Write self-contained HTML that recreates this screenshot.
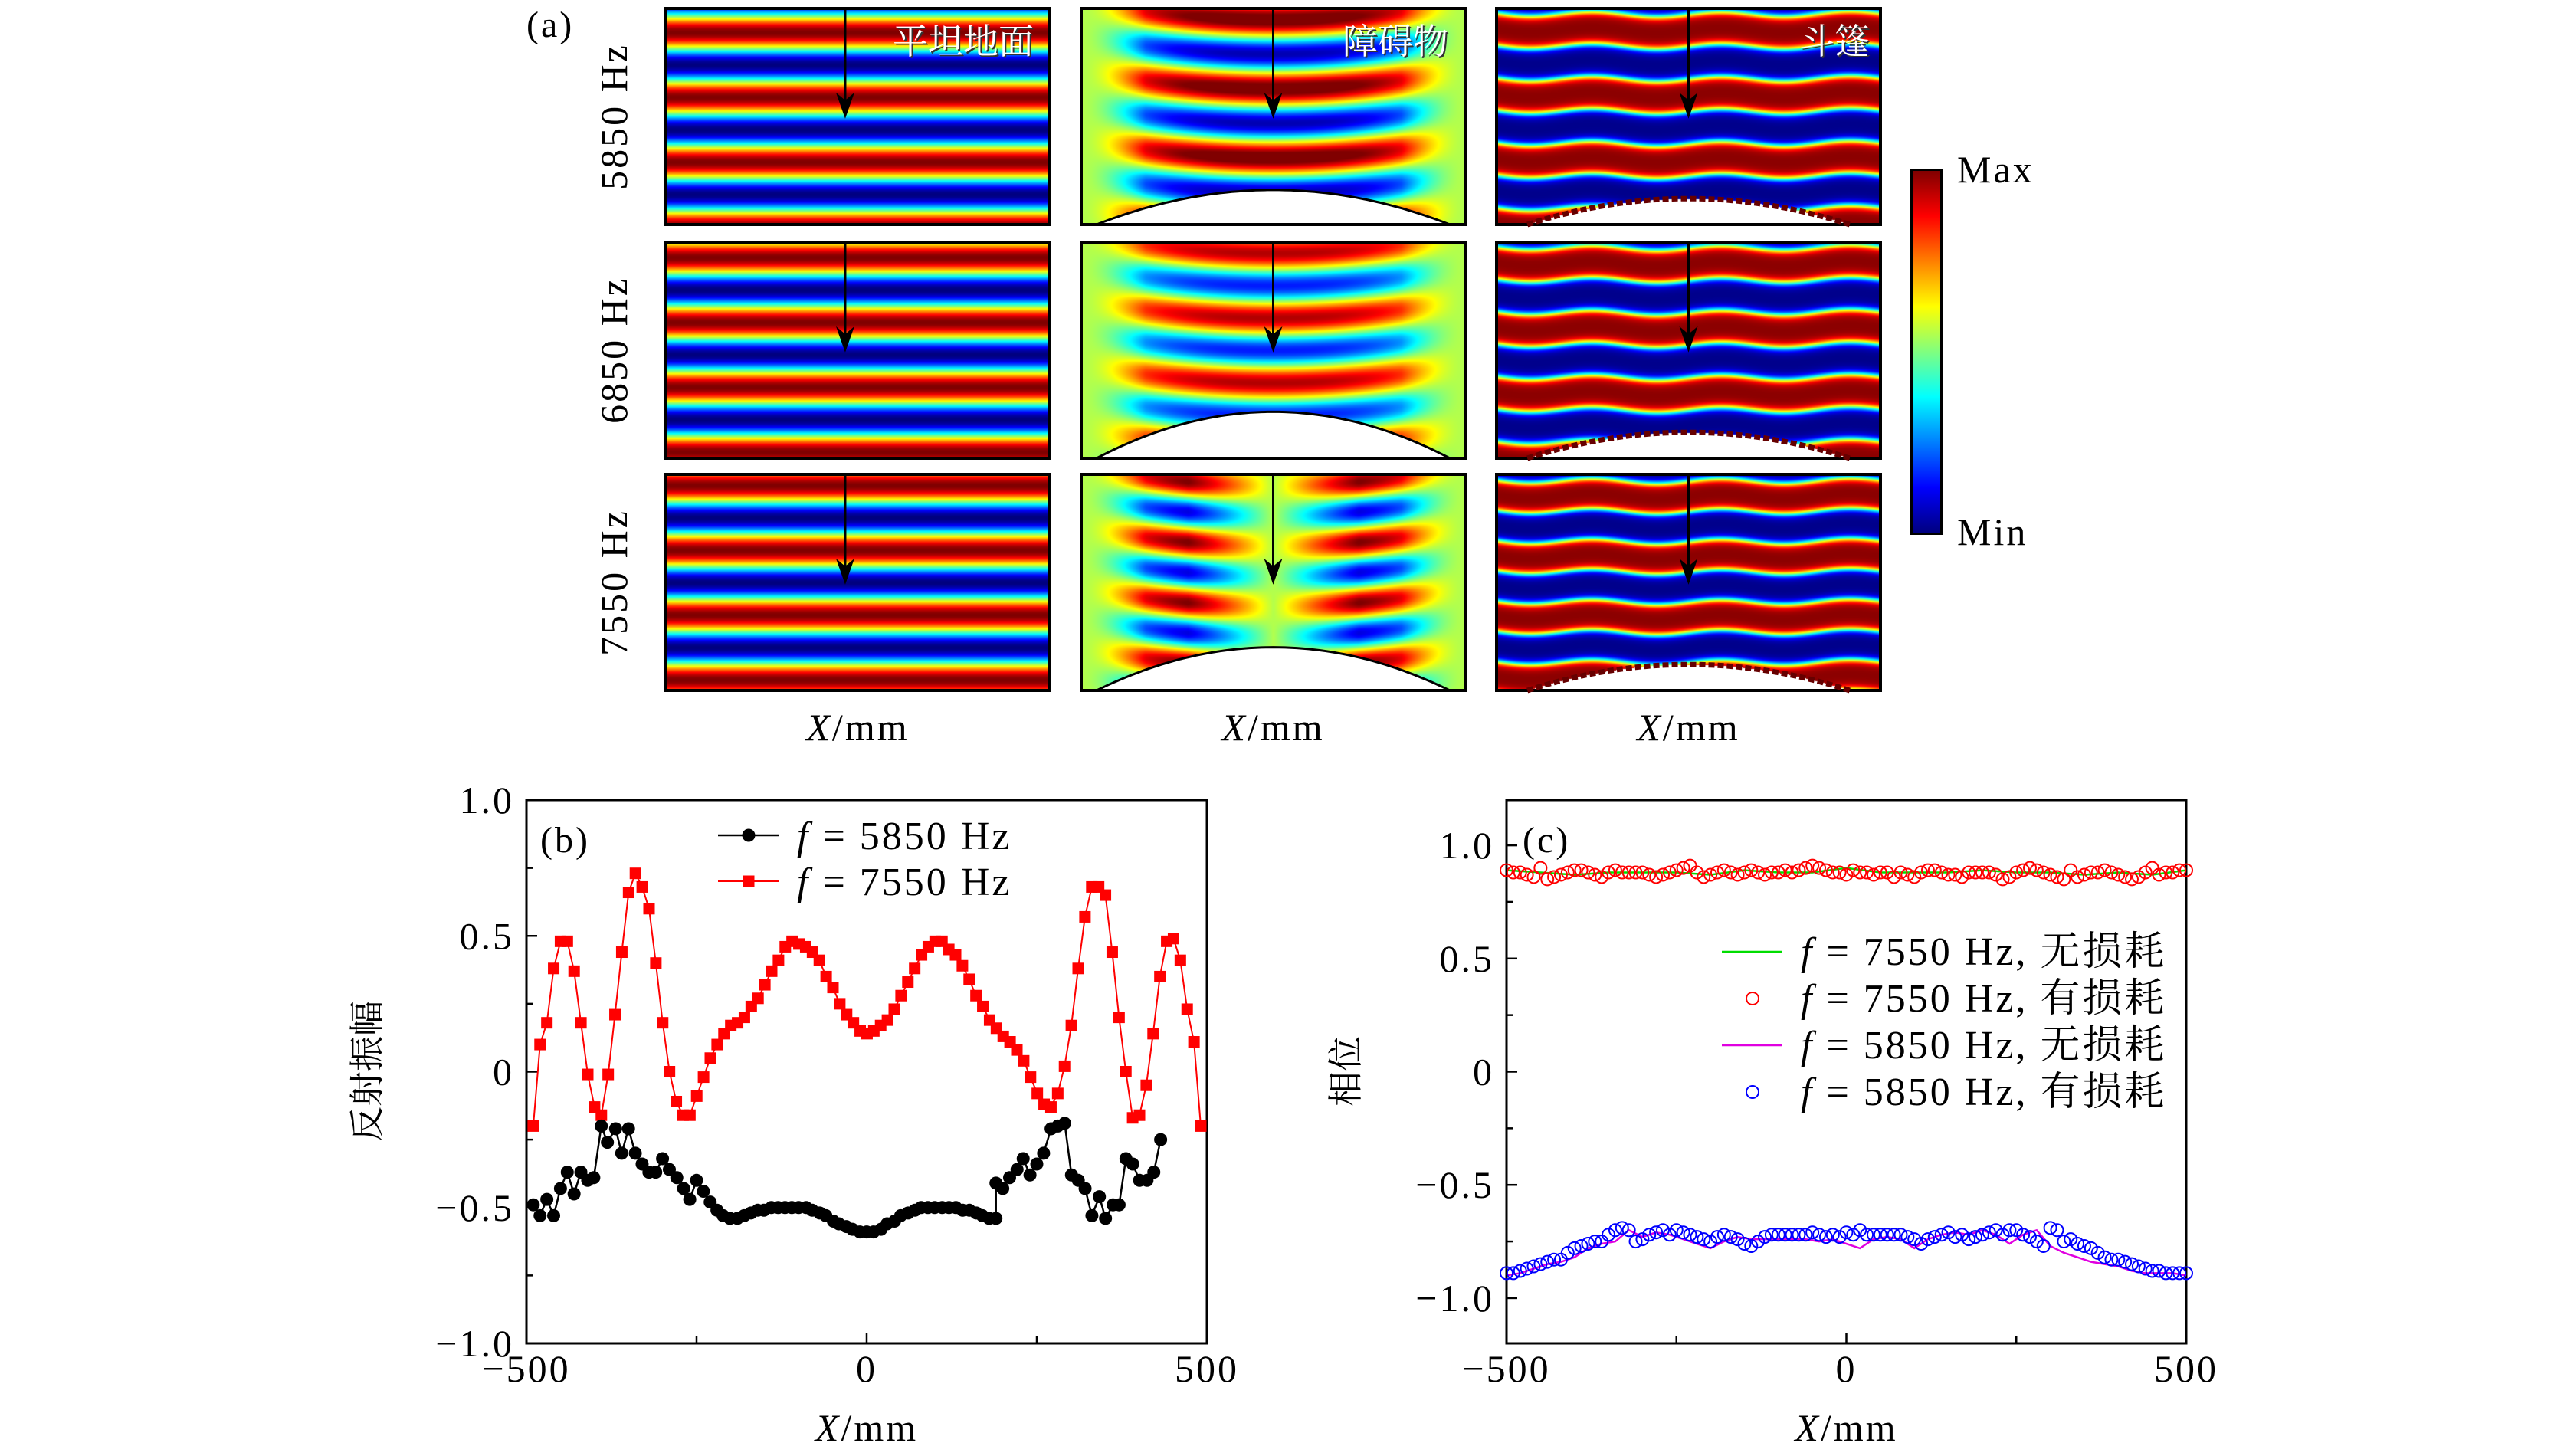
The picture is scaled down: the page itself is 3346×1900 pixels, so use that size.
<!DOCTYPE html>
<html><head><meta charset="utf-8">
<style>
html,body{margin:0;padding:0;background:#fff;}
#root{position:relative;width:3346px;height:1900px;overflow:hidden;background:#fff;}
canvas{position:absolute;}
svg{position:absolute;left:0;top:0;}
text{font-family:"Liberation Serif","Noto Serif CJK SC",serif;}
.w{letter-spacing:3px;}
</style></head>
<body>
<div id="root">
<div style="position:absolute;left:2493px;top:220px;width:36px;height:472px;border:3px solid #000;background:linear-gradient(to bottom,#800000 0%,#ff0000 12.5%,#ffff00 37.5%,#00ffff 62.5%,#0000ff 87.5%,#000080 100%);"></div>
<svg id="svg" width="3346" height="1900"></svg>
</div>
<script>
// ---------- chart (b) data ----------
const bRedY = [-0.20,0.10,0.18,0.38,0.48,0.48,0.37,0.18,-0.01,-0.13,-0.16,-0.01,0.21,0.44,0.66,0.73,0.68,0.60,0.40,0.18,0.00,-0.11,-0.16,-0.16,-0.09,-0.02,0.05,0.10,0.14,0.17,0.18,0.20,0.24,0.27,0.32,0.37,0.41,0.46,0.48,0.47,0.46,0.44,0.41,0.35,0.31,0.25,0.21,0.18,0.15,0.14,0.15,0.17,0.19,0.23,0.28,0.33,0.38,0.43,0.46,0.48,0.48,0.45,0.43,0.39,0.34,0.28,0.24,0.19,0.16,0.13,0.11,0.08,0.04,-0.02,-0.08,-0.12,-0.13,-0.08,0.02,0.17,0.38,0.57,0.68,0.68,0.65,0.44,0.20,0.00,-0.17,-0.16,-0.05,0.14,0.35,0.48,0.49,0.41,0.23,0.11,-0.20];
const bBlackX = [-490,-480,-470,-460,-450,-440,-430,-420,-410,-401,-390,-381,-369,-360,-350,-340,-330,-320,-310,-300,-290,-279,-269,-260,-250,-240,-230,-220,-211,-201,-190,-180,-170,-160,-151,-140,-130,-120,-110,-100,-89,-80,-69,-60,-49,-41,-30,-21,-10,0,10,21,30,41,50,61,71,80,90,100,111,121,131,141,151,161,170,180,190,190,200,210,221,230,240,250,260,271,281,291,301,311,321,331,342,351,362,371,381,391,401,412,422,432];
const bBlackY = [-0.49,-0.53,-0.47,-0.53,-0.43,-0.37,-0.45,-0.37,-0.40,-0.39,-0.20,-0.26,-0.21,-0.30,-0.21,-0.30,-0.34,-0.37,-0.37,-0.32,-0.36,-0.39,-0.43,-0.47,-0.40,-0.44,-0.48,-0.51,-0.53,-0.54,-0.54,-0.53,-0.52,-0.51,-0.51,-0.50,-0.50,-0.50,-0.50,-0.50,-0.50,-0.51,-0.52,-0.53,-0.55,-0.56,-0.57,-0.58,-0.59,-0.59,-0.59,-0.58,-0.56,-0.55,-0.53,-0.52,-0.51,-0.50,-0.50,-0.50,-0.50,-0.50,-0.50,-0.51,-0.51,-0.52,-0.53,-0.54,-0.54,-0.41,-0.43,-0.39,-0.36,-0.32,-0.38,-0.34,-0.30,-0.21,-0.20,-0.19,-0.38,-0.40,-0.43,-0.53,-0.46,-0.54,-0.49,-0.49,-0.32,-0.34,-0.40,-0.40,-0.37,-0.25];
const bXTicks = [-500,0,500];
const bYTicks = [-1.0,-0.5,0,0.5,1.0];
const bYTickLabels = ["\u22121.0","\u22120.5","0","0.5","1.0"];
// ---------- chart (c) data ----------
const cRedY = [0.89,0.88,0.88,0.87,0.86,0.90,0.85,0.86,0.87,0.88,0.89,0.89,0.88,0.87,0.86,0.88,0.89,0.88,0.88,0.88,0.88,0.87,0.86,0.87,0.88,0.89,0.90,0.91,0.88,0.86,0.87,0.88,0.89,0.88,0.87,0.88,0.89,0.88,0.87,0.88,0.88,0.89,0.88,0.89,0.90,0.91,0.90,0.89,0.88,0.88,0.87,0.89,0.88,0.88,0.87,0.88,0.88,0.86,0.88,0.87,0.86,0.88,0.89,0.89,0.88,0.87,0.87,0.86,0.88,0.88,0.88,0.88,0.87,0.85,0.86,0.88,0.89,0.90,0.89,0.88,0.87,0.86,0.85,0.89,0.86,0.87,0.88,0.88,0.89,0.88,0.87,0.86,0.85,0.86,0.88,0.90,0.87,0.88,0.88,0.89,0.89];
const cGreenY = [0.89,0.88,0.87,0.88,0.88,0.88,0.87,0.89,0.88,0.88,0.90,0.88,0.88,0.88,0.89,0.88,0.88,0.87,0.88,0.87,0.89];
const cBlueY = [-0.89,-0.89,-0.88,-0.87,-0.86,-0.85,-0.84,-0.83,-0.83,-0.80,-0.78,-0.77,-0.76,-0.75,-0.75,-0.72,-0.70,-0.69,-0.70,-0.75,-0.74,-0.72,-0.71,-0.70,-0.72,-0.70,-0.71,-0.72,-0.73,-0.74,-0.75,-0.73,-0.72,-0.73,-0.74,-0.76,-0.77,-0.75,-0.73,-0.72,-0.72,-0.72,-0.72,-0.72,-0.72,-0.71,-0.72,-0.73,-0.72,-0.73,-0.71,-0.72,-0.70,-0.72,-0.72,-0.72,-0.72,-0.72,-0.72,-0.73,-0.74,-0.76,-0.74,-0.73,-0.72,-0.71,-0.73,-0.72,-0.74,-0.73,-0.72,-0.71,-0.70,-0.72,-0.70,-0.70,-0.72,-0.73,-0.75,-0.77,-0.69,-0.70,-0.75,-0.74,-0.76,-0.77,-0.78,-0.80,-0.82,-0.83,-0.83,-0.84,-0.85,-0.86,-0.87,-0.88,-0.88,-0.89,-0.89,-0.89,-0.89];
const cMagentaY = [-0.90,-0.89,-0.87,-0.85,-0.84,-0.82,-0.78,-0.76,-0.75,-0.70,-0.73,-0.71,-0.72,-0.74,-0.76,-0.78,-0.75,-0.73,-0.74,-0.74,-0.74,-0.74,-0.74,-0.75,-0.74,-0.76,-0.78,-0.74,-0.73,-0.74,-0.78,-0.74,-0.72,-0.71,-0.72,-0.70,-0.72,-0.76,-0.72,-0.70,-0.77,-0.80,-0.82,-0.84,-0.85,-0.86,-0.88,-0.89,-0.89,-0.89,-0.90];
const cYTicks = [-1.0,-0.5,0,0.5,1.0];
const cYTickLabels = ["\u22121.0","\u22120.5","0","0.5","1.0"];

const NS="http://www.w3.org/2000/svg";
const svg=document.getElementById('svg');
function mk(tag,attrs,parent){const e=document.createElementNS(NS,tag);for(const k in attrs)e.setAttribute(k,attrs[k]);(parent||svg).appendChild(e);return e;}
function txt(s,attrs,parent){const e=mk('text',attrs,parent);e.textContent=s;return e;}
function linspace(a,b,n){const r=[];for(let i=0;i<n;i++)r.push(a+(b-a)*i/(n-1));return r;}

// ---------- heatmaps ----------
const colL=[869,1411,1953], rowT=[11,316,619], PW=501, PH=282;
function jet(v){v=Math.max(0,Math.min(1,v));const c=x=>Math.max(0,Math.min(1,x));
 return [255*c(1.5-Math.abs(4*v-3)),255*c(1.5-Math.abs(4*v-2)),255*c(1.5-Math.abs(4*v-1))];}
const periods=[[0.30,0.29,0.27],[0.32,0.30,0.28],[0.30,0.30,0.28]];
const phases=[0.06,0.02,0.0];
const arcTop=[0.84,0.785,0.80];
const names=['flat-ground','obstacle','cloak'];
const freqs=['5850','6850','7550'];
const root=document.getElementById('root');
for(let c=0;c<3;c++)for(let r=0;r<3;r++){
 const cv=document.createElement('canvas');cv.width=PW;cv.height=PH;
 cv.style.left=colL[c]+'px';cv.style.top=rowT[r]+'px';
 
 
 root.insertBefore(cv,root.firstChild);
 const ctx=cv.getContext('2d');const im=ctx.createImageData(PW,PH);
 const P=periods[c][r];
 for(let y=0;y<PH;y++)for(let x=0;x<PW;x++){
  const u=x/PW-0.5,t=y/PH;let v,white=false;
  if(c===0){v=0.5+0.5*Math.cos(2*Math.PI*(t-phases[r]-0.05)/0.3);}
  else if(c===1){
   const at=arcTop[r]+(1-arcTop[r])*(u/0.46)*(u/0.46);
   if(t>at)white=true;
   const s=t+0.35*u*u;
   let A=Math.max(0,1-Math.pow(Math.abs(u)/0.5,3))*Math.min(1,(0.5-Math.abs(u))*6);
   if(r===2)A*=Math.min(1,Math.abs(u)*4.5);
   if(r===1)A*=0.8;
   v=0.55+0.5*A*Math.cos(2*Math.PI*(s-0.05)/P);
  } else {
   const at=0.88+0.12*(u/0.42)*(u/0.42);
   if(t>at)white=true;
   const s=t+0.012*Math.sin(2*Math.PI*u*3)+0.02*u*u;
   v=0.5+0.5*Math.tanh(2.2*Math.cos(2*Math.PI*(s-0.1)/P));
  }
  const i=4*(y*PW+x);
  if(white){im.data[i]=im.data[i+1]=im.data[i+2]=255;}
  else{const col=jet(v);im.data[i]=col[0];im.data[i+1]=col[1];im.data[i+2]=col[2];}
  im.data[i+3]=255;
 }
 ctx.putImageData(im,0,0);
 mk('rect',{x:colL[c],y:rowT[r],width:PW,height:PH,fill:'none',stroke:'#000','stroke-width':4});
 if(c>0){
  const top=c===1?arcTop[r]:0.88, half=c===1?0.46:0.42;
  let d='';for(let k=0;k<=60;k++){const u=-half+2*half*k/60;const t=top+(1-top)*(u/half)*(u/half);
   d+=(k?'L':'M')+(colL[c]+(u+0.5)*PW).toFixed(1)+','+(rowT[r]+t*PH).toFixed(1);}
  mk('path',{d:d,fill:'none',stroke:c===1?'#000':'#600','stroke-width':c===1?3:7,'stroke-dasharray':c===2?'8,4':'none'});
 }
 const ax=colL[c]+(c===0?0.467:0.5)*PW, tip=rowT[r]+0.51*PH;
 const ar=mk('line',{x1:ax,y1:rowT[r],x2:ax,y2:tip-10,stroke:'#000','stroke-width':3});
 
 
 mk('path',{d:`M${ax-12},${tip-34} L${ax},${tip} L${ax+12},${tip-34} L${ax},${tip-24} Z`,fill:'#000'});
}
[['平坦地面',1349],['障碍物',1890],['斗篷',2440]].forEach((p,i)=>{
 txt(p[0],{x:p[1]+2,y:72,'text-anchor':'end','font-size':46,fill:'#333'});
 const t2=txt(p[0],{x:p[1],y:70,'text-anchor':'end','font-size':46,fill:'#fff'});
 
 
});
txt('(a)',{x:687,y:48,'font-size':48,class:'w'});
['5850 Hz','6850 Hz','7550 Hz'].forEach((s,i)=>{
 const cy=rowT[i]+PH/2;
 const t=txt(s,{x:0,y:0,'font-size':50,class:'w','text-anchor':'middle',transform:`translate(818,${cy}) rotate(-90)`});
 
 
});
for(let c=0;c<3;c++){
 const t=mk('text',{x:colL[c]+PW/2,y:966,'font-size':50,class:'w','text-anchor':'middle'});
 t.innerHTML='<tspan font-style="italic">X</tspan>/mm';
 
}
txt('Max',{x:2554,y:238,'font-size':50,class:'w'});
txt('Min',{x:2554,y:711,'font-size':50,class:'w'});

function axes(L,R,T,B,ymin,ymax,yTicks,yLabels,yMinor,name){
 const X=v=>L+(v+500)/1000*(R-L);
 const Y=v=>B-(v-ymin)/(ymax-ymin)*(B-T);
 const g=mk('g',{});
 
 
 mk('rect',{x:L,y:T,width:R-L,height:B-T,fill:'none',stroke:'#000','stroke-width':3},g);
 [-500,-250,0,250,500].forEach(v=>mk('line',{x1:X(v),x2:X(v),y1:B,y2:B-(v%500===0?14:9),stroke:'#000','stroke-width':2.5},g));
 bXTicks.forEach(v=>{const t=txt(v<0?'\u2212500':String(v),{x:X(v),y:B+50,'font-size':50,class:'w','text-anchor':'middle'},g);
  });
 yTicks.forEach((v,i)=>{mk('line',{x1:L,x2:L+14,y1:Y(v),y2:Y(v),stroke:'#000','stroke-width':2.5},g);
  const t=txt(yLabels[i],{x:L-16,y:Y(v)+17,'font-size':50,class:'w','text-anchor':'end'},g);
  });
 yMinor.forEach(v=>mk('line',{x1:L,x2:L+9,y1:Y(v),y2:Y(v),stroke:'#000','stroke-width':2.5},g));
 const xt=mk('text',{x:(L+R)/2,y:1880,'font-size':50,class:'w','text-anchor':'middle'},g);
 xt.innerHTML='<tspan font-style="italic">X</tspan>/mm';
 
 return {X,Y,g};
}
const b=axes(687,1575,1044,1753,-1,1,bYTicks,bYTickLabels,[-0.75,-0.25,0.25,0.75],'chart-b');
const bRedX=linspace(-490,491,bRedY.length);
function poly(xs,ys,ax,color,w,name){const p=mk('polyline',{points:xs.map((x,i)=>ax.X(x)+','+ax.Y(ys[i])).join(' '),fill:'none',stroke:color,'stroke-width':w},ax.g);
 return p;}
poly(bRedX,bRedY,b,'#ff0000',2,'series-7550-line');
poly(bBlackX,bBlackY,b,'#000',2.5,'series-5850-line');
bRedX.forEach((x,i)=>{const r=mk('rect',{x:b.X(x)-7.5,y:b.Y(bRedY[i])-7.5,width:15,height:15,fill:'#ff0000'},b.g);
 });
bBlackX.forEach((x,i)=>{const c=mk('circle',{cx:b.X(x),cy:b.Y(bBlackY[i]),r:8.5,fill:'#000'},b.g);
 });
txt('(b)',{x:705,y:1112,'font-size':48,class:'w'});
const ybt=txt('反射振幅',{x:0,y:0,'font-size':46,'text-anchor':'middle',transform:'translate(495,1398) rotate(-90)'});

const lgB=mk('g',{});
mk('line',{x1:937,x2:1017,y1:1090,y2:1090,stroke:'#000','stroke-width':2.5},lgB);
mk('circle',{cx:977,cy:1090,r:8.5,fill:'#000'},lgB);
mk('line',{x1:937,x2:1017,y1:1150,y2:1150,stroke:'#f00','stroke-width':2},lgB);
mk('rect',{x:969.5,y:1142.5,width:15,height:15,fill:'#f00'},lgB);
const l1=mk('text',{x:1040,y:1108,'font-size':52,class:'w'},lgB);l1.innerHTML='<tspan font-style="italic">f</tspan> = 5850 Hz';
const l2=mk('text',{x:1040,y:1168,'font-size':52,class:'w'},lgB);l2.innerHTML='<tspan font-style="italic">f</tspan> = 7550 Hz';

const cax=axes(1966,2853,1044,1753,-1.2,1.2,cYTicks,cYTickLabels,[-0.75,-0.25,0.25,0.75],'chart-c');
const cX=linspace(-500,500,cRedY.length);
poly(linspace(-500,500,cGreenY.length),cGreenY,cax,'#00dd00',2.5,'series-7550-lossless');
poly(linspace(-500,500,cMagentaY.length),cMagentaY,cax,'#e000e0',2.5,'series-5850-lossless');
cX.forEach((x,i)=>{const c=mk('circle',{cx:cax.X(x),cy:cax.Y(cRedY[i]),r:8,fill:'none',stroke:'#ff0000','stroke-width':2},cax.g);
 });
const cBX=linspace(-500,500,cBlueY.length);
cBX.forEach((x,i)=>{const c=mk('circle',{cx:cax.X(x),cy:cax.Y(cBlueY[i]),r:8,fill:'none',stroke:'#0000ff','stroke-width':2},cax.g);
 });
txt('(c)',{x:1987,y:1112,'font-size':48,class:'w'});
const yct=txt('相位',{x:0,y:0,'font-size':46,'text-anchor':'middle',transform:'translate(1772,1398) rotate(-90)'});

const lgC=mk('g',{});
const items=[['line','#00dd00','7550','无损耗'],['circ','#ff0000','7550','有损耗'],['line','#e000e0','5850','无损耗'],['circ','#0000ff','5850','有损耗']];
items.forEach((it,i)=>{const y=1242+i*61;
 if(it[0]==='line')mk('line',{x1:2247,x2:2326,y1:y,y2:y,stroke:it[1],'stroke-width':2.5},lgC);
 else mk('circle',{cx:2287,cy:y,r:8,fill:'none',stroke:it[1],'stroke-width':2},lgC);
 const t=mk('text',{x:2350,y:y+17,'font-size':52,class:'w'},lgC);
 t.innerHTML='<tspan font-style="italic">f</tspan> = '+it[2]+' Hz, '+it[3];
});
</script>
</body></html>
